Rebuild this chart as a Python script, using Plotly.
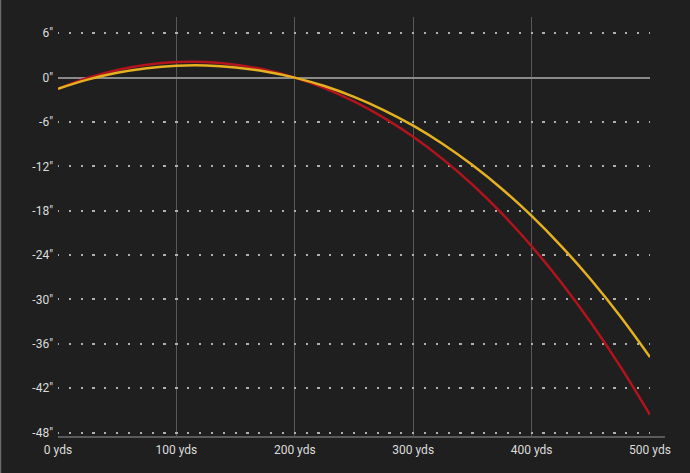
import plotly.graph_objects as go

distance_yds = [0, 25, 50, 75, 100, 125, 150, 175, 200, 225, 250, 275, 300,
                325, 350, 375, 400, 425, 450, 475, 500]
red_drop_in = [-1.5, -0.04, 1.04, 1.75, 2.1, 2.1, 1.75, 1.06, 0.0, -1.42, -3.22,
               -5.41, -8.0, -11.02, -14.48, -18.4, -22.8, -27.7, -33.12, -39.08, -45.6]
yellow_drop_in = [-1.5, -0.27, 0.65, 1.27, 1.6, 1.64, 1.38, 0.84, 0.0, -1.14, -2.6,
                  -4.38, -6.5, -8.97, -11.82, -15.06, -18.7, -22.78, -27.3, -32.3, -37.8]
x_ticks = [0, 100, 200, 300, 400, 500]
x_tick_labels = ["0 yds", "100 yds", "200 yds", "300 yds", "400 yds", "500 yds"]
y_ticks = [6, 0, -6, -12, -18, -24, -30, -36, -42, -48]
y_tick_labels = ['6"', '0"', '-6"', '-12"', '-18"', '-24"', '-30"', '-36"', '-42"', '-48"']

BG = "#1f1f1f"
fig = go.Figure()
fig.add_trace(go.Scatter(x=distance_yds, y=red_drop_in, mode="lines",
                         line=dict(color="#b3131c", width=2.5, shape="spline"),
                         showlegend=False, hoverinfo="skip"))
fig.add_trace(go.Scatter(x=distance_yds, y=yellow_drop_in, mode="lines",
                         line=dict(color="#e5b120", width=2.5, shape="spline"),
                         showlegend=False, hoverinfo="skip"))

fig.update_layout(
    width=690, height=473,
    paper_bgcolor=BG, plot_bgcolor=BG,
    margin=dict(l=58, r=40, t=17, b=36),
    font=dict(family="Roboto, sans-serif", size=12, color="#dcdcdc"),
    xaxis=dict(range=[0, 500], tickvals=x_ticks, ticktext=x_tick_labels,
               showgrid=True, gridcolor="#585858", gridwidth=1,
               zeroline=False, showline=False, ticks="", ticklabelstandoff=4,
               fixedrange=True),
    yaxis=dict(range=[-48.6, 8.2], tickvals=y_ticks, ticktext=y_tick_labels,
               showgrid=True, gridcolor="#b0b0b0", gridwidth=2.2,
               griddash="1.1px,9.64px,1.1px,0px",
               zeroline=True, zerolinecolor="#8a8a8a", zerolinewidth=2,
               showline=False, ticks="", ticklabelstandoff=4, fixedrange=True),
    shapes=[
        dict(type="line", xref="paper", yref="paper", x0=0, x1=1.0253, y0=0, y1=0,
             line=dict(color="#5a5a5a", width=2), layer="below"),
        dict(type="line", xref="paper", yref="paper", x0=-57.5/592, x1=-57.5/592,
             y0=-36/420, y1=1 + 17/420, line=dict(color="#6a6a6a", width=1.5)),
    ],
)
fig.write_html("out.html", config={"displayModeBar": False},
               post_script="document.body.style.margin='0';document.body.style.overflow='hidden';")
